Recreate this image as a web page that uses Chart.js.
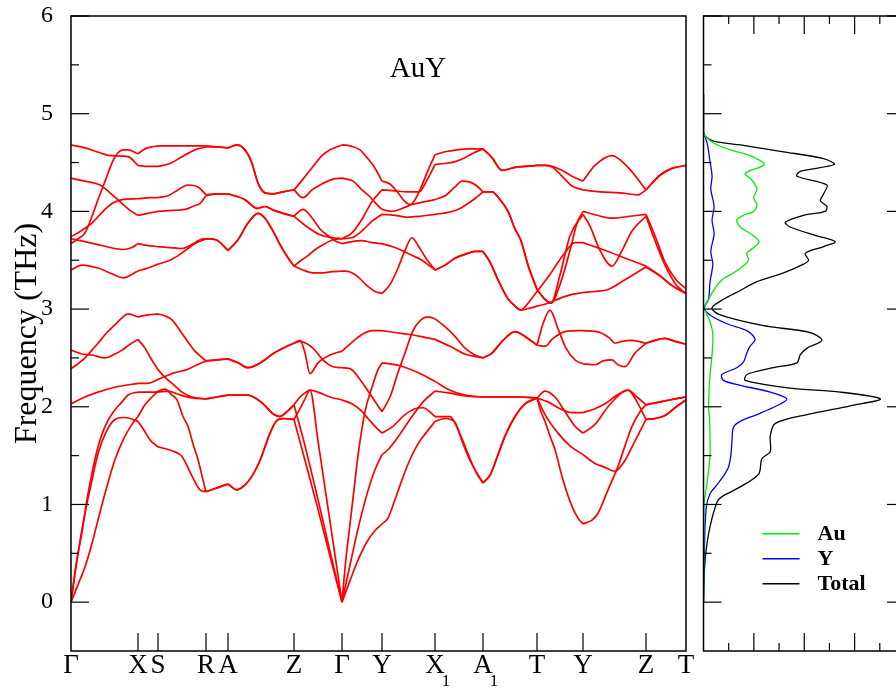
<!DOCTYPE html>
<html>
<head>
<meta charset="utf-8">
<title>AuY phonons</title>
<script src="https://cdn.jsdelivr.net/npm/chart.js@4/dist/chart.umd.min.js"></script>
<style>
  html, body { margin: 0; padding: 0; background: #fff; }
  #wrap { position: relative; width: 896px; height: 692px; overflow: hidden; background: #fff; }
  #bandBox { position: absolute; left: 0; top: 0; width: 700px; height: 692px; }
  #dosBox { position: absolute; left: 696px; top: 0; width: 230px; height: 692px; }
</style>
</head>
<body>
<div id="wrap">
  <div id="bandBox"><canvas id="bands"></canvas></div>
  <div id="dosBox"><canvas id="dos"></canvas></div>
</div>
<script>
// ---- k-path (path distance) and high-symmetry points ----
const kTicks = [0, 67, 87, 135, 157, 223, 271, 311, 364, 412, 466, 512, 575, 615];
const kLabels = [['Γ',''],['X',''],['S',''],['R',''],['A',''],['Z',''],['Γ',''],['Y',''],['X','1'],['A','1'],['T',''],['Y',''],['Z',''],['T','']];
const freqTicks = [0, 1, 2, 3, 4, 5, 6];

// ---- phonon branches: [k, frequency (THz)] ----
const band1 = [[0,4.68],[14,4.65],[29,4.60],[39,4.57],[57,4.56],[67,4.47],[77,4.46],[87,4.46],[99,4.49],[111,4.56],[124,4.63],[135,4.66],[146,4.66],[157,4.65],[166,4.68],[176,4.60],[181,4.49],[187,4.29],[194,4.19],[203,4.18],[212,4.20],[223,4.22],[232,4.33],[242,4.46],[251,4.57],[259,4.63],[271,4.68],[279,4.67],[289,4.63],[296,4.55],[303,4.46],[311,4.31],[319,4.28],[327,4.19],[334,4.10],[339,4.07],[344,4.12],[349,4.22],[357,4.42],[364,4.58],[374,4.61],[386,4.63],[399,4.64],[412,4.64],[421,4.55],[431,4.42],[444,4.45],[454,4.46],[466,4.47],[474,4.47],[482,4.46],[491,4.42],[501,4.36],[512,4.31],[524,4.47],[541,4.57],[557,4.45],[575,4.22],[589,4.37],[601,4.44],[615,4.47]];
const band2 = [[0,3.72],[14,3.69],[27,3.66],[39,3.63],[52,3.61],[61,3.63],[67,3.67],[77,3.65],[87,3.64],[99,3.63],[111,3.62],[117,3.64],[124,3.68],[129,3.71],[135,3.72],[145,3.71],[157,3.60],[167,3.71],[177,3.88],[187,3.98],[194,3.93],[203,3.78],[209,3.66],[216,3.54],[223,3.44],[229,3.49],[236,3.54],[243,3.60],[249,3.64],[262,3.71],[271,3.72],[281,3.78],[291,3.92],[301,4.10],[311,4.22],[324,4.21],[336,4.20],[348,4.20],[356,4.32],[364,4.48],[374,4.49],[384,4.51],[394,4.55],[403,4.60],[412,4.64],[421,4.55],[431,4.42],[444,4.45],[454,4.46],[466,4.47],[474,4.47],[482,4.45],[491,4.36],[501,4.26],[512,4.22],[529,4.20],[549,4.19],[567,4.17],[575,4.22],[589,4.37],[601,4.44],[615,4.47]];
const band3 = [[0,3.67],[7,3.72],[14,3.78],[21,3.95],[27,4.12],[33,4.28],[37,4.39],[42,4.52],[47,4.60],[52,4.63],[57,4.63],[67,4.59],[74,4.64],[81,4.66],[87,4.67],[111,4.67],[135,4.67],[157,4.65],[166,4.68],[176,4.60],[181,4.49],[187,4.29],[194,4.19],[203,4.18],[212,4.20],[223,4.22],[232,4.14],[241,4.22],[249,4.27],[262,4.33],[271,4.34],[282,4.31],[291,4.22],[299,4.15],[305,4.08],[311,4.02],[321,4.00],[331,4.03],[341,4.07],[354,4.10],[364,4.12],[374,4.16],[384,4.25],[391,4.31],[399,4.30],[406,4.26],[412,4.20],[421,4.20],[429,4.12],[437,4.00],[444,3.82],[450,3.70],[457,3.45],[466,3.20],[474,3.10],[480,3.06],[489,3.25],[499,3.60],[506,3.88],[512,4.00],[526,3.96],[541,3.93],[559,3.95],[575,3.97],[584,3.75],[594,3.48],[605,3.30],[615,3.21]];
const band4 = [[0,4.34],[9,4.32],[19,4.30],[29,4.27],[39,4.19],[49,4.10],[59,4.01],[67,3.96],[77,3.98],[87,4.00],[101,4.01],[114,4.02],[124,4.06],[129,4.08],[135,4.16],[146,4.18],[157,4.18],[174,4.12],[186,4.03],[194,4.05],[203,4.01],[212,3.98],[223,3.95],[235,3.85],[249,3.76],[262,3.73],[271,3.72],[281,3.73],[291,3.80],[301,3.90],[311,3.97],[324,3.96],[336,3.94],[349,3.95],[364,3.97],[377,3.99],[387,4.02],[397,4.08],[405,4.14],[412,4.20],[421,4.20],[429,4.12],[437,4.00],[444,3.82],[450,3.70],[457,3.45],[466,3.20],[474,3.10],[480,3.06],[489,3.35],[499,3.75],[512,3.97],[519,3.85],[529,3.60],[541,3.44],[551,3.60],[561,3.80],[575,3.95],[584,3.70],[594,3.45],[605,3.25],[615,3.16]];
const band5 = [[0,3.74],[10,3.80],[21,3.88],[31,3.99],[41,4.08],[51,4.12],[67,4.13],[79,4.14],[87,4.14],[97,4.16],[107,4.22],[117,4.27],[127,4.25],[135,4.17],[146,4.18],[157,4.18],[174,4.12],[186,4.03],[194,4.05],[203,4.01],[212,3.98],[223,3.95],[227,3.99],[232,4.02],[242,3.92],[249,3.82],[256,3.76],[264,3.70],[271,3.67],[281,3.69],[291,3.70],[301,3.68],[311,3.67],[321,3.64],[331,3.60],[341,3.55],[351,3.50],[359,3.44],[364,3.40],[374,3.45],[384,3.52],[394,3.56],[404,3.59],[412,3.59],[419,3.48],[427,3.30],[436,3.12],[443,3.04],[450,2.99],[457,3.06],[466,3.18],[472,3.26],[480,3.37],[492,3.55],[504,3.68],[512,3.68],[526,3.63],[537,3.59],[557,3.51],[575,3.44],[589,3.34],[601,3.24],[615,3.16]];
const band6 = [[0,3.40],[11,3.45],[27,3.42],[39,3.37],[52,3.32],[67,3.39],[77,3.42],[87,3.46],[99,3.50],[109,3.56],[117,3.62],[124,3.67],[135,3.72],[145,3.71],[157,3.60],[167,3.71],[177,3.88],[187,3.98],[194,3.93],[203,3.78],[209,3.66],[216,3.54],[223,3.44],[232,3.40],[242,3.37],[251,3.37],[259,3.38],[271,3.39],[279,3.38],[287,3.33],[295,3.25],[304,3.18],[311,3.16],[319,3.25],[327,3.42],[334,3.60],[341,3.73],[347,3.65],[355,3.52],[364,3.40],[374,3.45],[384,3.52],[394,3.56],[404,3.59],[412,3.59],[419,3.48],[427,3.30],[436,3.12],[443,3.04],[450,2.99],[459,3.01],[466,3.03],[477,3.06],[489,3.11],[501,3.15],[512,3.17],[524,3.18],[537,3.20],[554,3.30],[575,3.43],[589,3.34],[601,3.24],[615,3.16]];
const band7 = [[0,2.39],[7,2.44],[14,2.50],[21,2.58],[27,2.65],[35,2.75],[44,2.84],[51,2.91],[57,2.95],[67,2.92],[77,2.94],[87,2.95],[94,2.93],[101,2.89],[111,2.75],[124,2.57],[135,2.47],[146,2.48],[157,2.49],[167,2.45],[177,2.40],[191,2.46],[203,2.55],[214,2.61],[223,2.65],[229,2.68],[234,2.55],[239,2.34],[247,2.45],[259,2.53],[271,2.57],[281,2.66],[291,2.74],[301,2.78],[311,2.78],[324,2.76],[339,2.74],[354,2.71],[364,2.69],[379,2.62],[394,2.54],[412,2.50],[421,2.55],[432,2.68],[444,2.77],[454,2.72],[466,2.63],[472,2.85],[479,2.99],[487,2.80],[495,2.60],[504,2.48],[512,2.44],[524,2.43],[532,2.47],[541,2.48],[547,2.43],[554,2.41],[564,2.55],[575,2.65],[584,2.68],[594,2.70],[604,2.67],[615,2.64]];
const band8 = [[0,2.03],[14,2.10],[27,2.15],[44,2.20],[67,2.24],[77,2.24],[87,2.28],[94,2.31],[104,2.35],[116,2.38],[124,2.42],[135,2.47],[146,2.48],[157,2.49],[167,2.45],[177,2.40],[191,2.46],[203,2.55],[214,2.61],[223,2.65],[229,2.67],[235,2.65],[242,2.60],[252,2.48],[262,2.41],[271,2.40],[279,2.39],[289,2.28],[299,2.13],[311,1.95],[319,2.10],[327,2.35],[334,2.55],[342,2.78],[349,2.88],[357,2.92],[364,2.90],[374,2.82],[384,2.72],[394,2.60],[404,2.53],[412,2.50],[421,2.55],[432,2.68],[444,2.77],[454,2.72],[466,2.63],[474,2.62],[482,2.70],[494,2.77],[512,2.78],[529,2.76],[539,2.70],[544,2.65],[551,2.67],[561,2.68],[575,2.65],[584,2.68],[594,2.70],[604,2.67],[615,2.64]];
const band9 = [[0,2.58],[11,2.54],[21,2.53],[34,2.50],[44,2.54],[51,2.58],[59,2.64],[67,2.69],[74,2.60],[79,2.51],[87,2.38],[94,2.30],[101,2.24],[111,2.15],[121,2.10],[135,2.08],[146,2.10],[157,2.12],[177,2.12],[191,2.04],[203,1.92],[209,1.90],[216,1.95],[223,2.02],[229,2.10],[235,2.15],[239,2.17],[247,2.15],[259,2.10],[271,2.07],[281,2.03],[289,1.97],[297,1.88],[304,1.80],[311,1.73],[322,1.80],[334,1.92],[344,1.98],[352,1.99],[364,1.90],[379,1.90],[389,1.72],[397,1.52],[405,1.33],[412,1.22],[419,1.30],[426,1.48],[434,1.70],[444,1.90],[454,2.03],[466,2.09],[474,2.16],[484,2.10],[494,1.95],[504,1.80],[512,1.73],[524,1.82],[537,2.00],[549,2.13],[557,2.17],[566,2.10],[575,2.02],[584,2.04],[594,2.06],[604,2.08],[615,2.10]];
const band10 = [[0,0],[5,0.38],[11,0.72],[16,1.05],[21,1.32],[26,1.55],[31,1.72],[37,1.86],[44,1.97],[51,2.05],[57,2.12],[67,2.15],[77,2.15],[87,2.15],[97,2.16],[109,2.12],[121,2.09],[135,2.08],[146,2.10],[157,2.12],[177,2.12],[191,2.04],[203,1.92],[209,1.90],[216,1.95],[223,2.02],[234,1.60],[247,1.05],[259,0.52],[271,0],[275,0.45],[279,0.80],[283,1.15],[287,1.50],[294,1.95],[301,2.20],[307,2.38],[311,2.45],[329,2.42],[349,2.34],[364,2.26],[379,2.17],[394,2.12],[412,2.10],[429,2.10],[449,2.10],[466,2.09],[477,2.05],[489,1.98],[501,1.94],[512,1.94],[524,1.98],[534,2.03],[546,2.12],[557,2.17],[566,2.05],[575,1.87],[584,1.88],[594,1.91],[604,1.99],[615,2.07]];
const band11 = [[0,0],[7,0.50],[14,0.91],[21,1.25],[27,1.52],[36,1.76],[44,1.87],[52,1.89],[59,1.88],[67,1.85],[73,1.76],[79,1.66],[87,1.59],[101,1.55],[111,1.49],[121,1.29],[129,1.15],[135,1.13],[146,1.17],[157,1.21],[166,1.15],[174,1.20],[181,1.29],[189,1.45],[194,1.59],[199,1.73],[205,1.85],[212,1.88],[223,1.87],[234,1.45],[247,0.95],[259,0.47],[271,0],[279,0.38],[287,0.75],[295,1.07],[303,1.33],[311,1.51],[317,1.56],[329,1.72],[341,1.90],[353,2.06],[364,2.16],[379,2.14],[394,2.11],[412,2.10],[429,2.10],[449,2.10],[466,2.09],[474,1.92],[487,1.73],[499,1.60],[512,1.51],[524,1.42],[534,1.38],[544,1.34],[554,1.45],[561,1.59],[569,1.75],[575,1.87],[584,1.88],[594,1.91],[604,1.99],[615,2.07]];
const band12 = [[0,0],[7,0.18],[14,0.36],[21,0.60],[27,0.84],[35,1.15],[44,1.46],[53,1.68],[61,1.82],[67,1.90],[74,2.02],[81,2.10],[87,2.16],[94,2.18],[101,2.12],[106,2.07],[112,1.90],[117,1.80],[122,1.62],[127,1.46],[132,1.25],[135,1.13],[146,1.17],[157,1.21],[166,1.15],[174,1.20],[181,1.29],[189,1.45],[194,1.59],[199,1.73],[205,1.85],[212,1.88],[223,1.87],[229,1.98],[234,2.08],[239,2.17],[247,1.65],[255,1.10],[263,0.55],[271,0],[279,0.22],[287,0.43],[295,0.60],[303,0.72],[311,0.80],[317,0.86],[324,1.05],[332,1.28],[339,1.46],[347,1.62],[354,1.72],[364,1.85],[374,1.88],[384,1.84],[391,1.65],[399,1.45],[406,1.32],[412,1.22],[419,1.30],[426,1.48],[434,1.70],[444,1.90],[454,2.03],[466,2.09],[470,1.95],[474,1.85],[479,1.70],[484,1.56],[492,1.25],[501,0.98],[507,0.86],[512,0.80],[521,0.84],[527,0.91],[537,1.15],[547,1.39],[554,1.60],[561,1.80],[569,1.95],[575,2.02],[584,2.04],[594,2.06],[604,2.08],[615,2.10]];
const branches = [band1, band2, band3, band4, band5, band6, band7, band8, band9, band10, band11, band12];

// ---- phonon density of states: [frequency (THz), states] ----
const dosAu = [[0,0],[0.52,0.01],[1.02,0.03],[1.20,0.13],[1.51,0.26],[1.88,0.24],[2.01,0.20],[2.33,0.26],[2.50,0.33],[2.74,0.37],[2.87,0.26],[2.98,0.07],[3.01,0],[3.10,0.20],[3.19,0.40],[3.30,0.73],[3.37,1.19],[3.46,1.66],[3.50,1.79],[3.57,1.72],[3.64,2.05],[3.69,2.21],[3.75,1.99],[3.84,1.46],[3.91,1.32],[3.96,1.59],[4.00,1.99],[4.07,2.12],[4.14,1.99],[4.23,2.12],[4.32,1.92],[4.39,1.66],[4.48,2.41],[4.57,1.85],[4.63,1.06],[4.70,0.40],[4.77,0.07],[4.81,0],[5.20,0]];
const dosY = [[0,0],[0.50,0.03],[0.97,0.11],[1.11,0.26],[1.20,0.53],[1.29,0.79],[1.38,0.99],[1.51,1.09],[1.65,1.13],[1.79,1.19],[1.85,1.46],[1.92,2.12],[2.01,2.91],[2.08,3.31],[2.15,2.65],[2.22,1.46],[2.27,0.79],[2.33,0.73],[2.40,1.32],[2.46,1.59],[2.55,1.72],[2.62,1.85],[2.69,2.05],[2.78,1.72],[2.85,0.93],[2.94,0.26],[3.01,0.03],[3.10,0.20],[3.28,0.26],[3.46,0.37],[3.59,0.29],[3.77,0.42],[3.91,0.34],[4.05,0.42],[4.23,0.29],[4.36,0.34],[4.54,0.24],[4.68,0.16],[4.79,0.03],[4.81,0],[5.20,0]];
const dosTotal = [[0,0],[0.29,0.03],[0.50,0.09],[0.75,0.24],[1.02,0.53],[1.08,0.73],[1.18,1.46],[1.31,2.19],[1.47,2.32],[1.54,2.65],[1.70,2.65],[1.83,2.85],[1.92,4.11],[2.01,5.83],[2.08,7.02],[2.15,5.43],[2.19,3.44],[2.27,1.66],[2.33,1.72],[2.40,2.78],[2.45,3.71],[2.53,3.84],[2.60,4.11],[2.68,4.70],[2.76,4.24],[2.83,2.38],[2.94,0.66],[3.01,0.33],[3.10,0.79],[3.19,1.46],[3.28,2.12],[3.37,3.18],[3.46,3.97],[3.50,4.17],[3.57,4.04],[3.64,4.77],[3.69,5.23],[3.75,4.50],[3.84,3.44],[3.89,3.25],[3.96,3.97],[4.00,4.83],[4.05,4.90],[4.11,4.64],[4.18,4.77],[4.27,4.90],[4.36,3.71],[4.41,3.84],[4.48,5.19],[4.54,4.77],[4.61,3.18],[4.68,1.46],[4.72,0.40],[4.77,0.07],[4.81,0],[5.20,0]];
const dosNames = ['Au', 'Y', 'Total'];

// ---- shared styling ----
const serif = '"Liberation Serif", "DejaVu Serif", serif';
const interiorK = new Set(kTicks.slice(1, -1));

// each branch is drawn as one piece per path segment, so it may bend at a symmetry point
function branchPoints(arr) {
  const out = [];
  arr.forEach(([k, f], i) => {
    out.push({ x: k, y: f });
    if (i > 0 && i < arr.length - 1 && interiorK.has(k)) {
      out.push({ x: k, y: null });
      out.push({ x: k, y: f });
    }
  });
  return out;
}

function seg(ctx, x1, y1, x2, y2) {
  ctx.beginPath(); ctx.moveTo(x1, y1); ctx.lineTo(x2, y2); ctx.stroke();
}

// frame, inward tick marks, path labels and the compound name
const bandDecor = {
  id: 'bandDecor',
  afterDraw(chart) {
    const { ctx, chartArea: a, scales: { x, y } } = chart;
    ctx.save();
    ctx.strokeStyle = '#000';
    ctx.lineWidth = 1.5;
    ctx.strokeRect(a.left, a.top, a.right - a.left, a.bottom - a.top);
    ctx.lineWidth = 1.2;
    for (let v = 0; v <= 6; v += 0.5) {
      const py = y.getPixelForValue(v);
      seg(ctx, a.left, py, a.left + (Number.isInteger(v) ? 18 : 8), py);
    }
    interiorK.forEach(k => {
      const px = x.getPixelForValue(k);
      seg(ctx, px, a.bottom, px, a.bottom - 18);
    });
    ctx.fillStyle = '#000';
    ctx.textBaseline = 'middle';
    kLabels.forEach(([main, sub], i) => {
      const px = x.getPixelForValue(kTicks[i]);
      ctx.font = '27px ' + serif;
      ctx.textAlign = 'center';
      ctx.fillText(main, px, a.bottom + 15);
      if (sub) {
        const w = ctx.measureText(main).width;
        ctx.font = '17px ' + serif;
        ctx.textAlign = 'left';
        ctx.fillText(sub, px + w / 2 - 3, a.bottom + 31);
      }
    });
    ctx.font = '29px ' + serif;
    ctx.textAlign = 'center';
    ctx.fillText('AuY', x.getPixelForValue(347), y.getPixelForValue(5.45));
    ctx.restore();
  }
};

new Chart(document.getElementById('bands'), {
  type: 'line',
  data: {
    datasets: branches.map((b, i) => ({
      label: 'branch ' + (i + 1),
      data: branchPoints(b),
      borderColor: '#ff0000',
      borderWidth: 1.7,
      pointRadius: 0,
      fill: false,
      spanGaps: false,
      cubicInterpolationMode: 'monotone'
    }))
  },
  options: {
    responsive: true,
    maintainAspectRatio: false,
    animation: false,
    events: [],
    layout: { padding: { top: 16, right: 14, left: 0, bottom: 0 } },
    plugins: { legend: { display: false }, tooltip: { enabled: false } },
    scales: {
      x: {
        type: 'linear', min: 0, max: 615,
        grid: { display: false, drawTicks: false },
        border: { display: false },
        ticks: { display: false },
        afterFit: s => { s.height = 41; }
      },
      y: {
        type: 'linear', min: -0.5, max: 6,
        afterBuildTicks: s => { s.ticks = freqTicks.map(v => ({ value: v })); },
        afterFit: s => { s.width = 71; s.paddingTop = 0; s.paddingBottom = 0; },
        grid: { display: false, drawTicks: false },
        border: { display: false },
        ticks: { color: '#000', font: { family: serif, size: 24 }, padding: 18 },
        title: { display: true, text: 'Frequency (THz)', color: '#000', font: { family: serif, size: 32 }, padding: { top: 8, bottom: 0 } }
      }
    }
  },
  plugins: [bandDecor]
});

// ---- density of states panel ----
const dosColors = ['#00ee00', '#0000ff', '#000000'];
const dosDecor = {
  id: 'dosDecor',
  afterDraw(chart) {
    const { ctx, chartArea: a, scales: { x, y } } = chart;
    ctx.save();
    ctx.strokeStyle = '#000';
    ctx.lineWidth = 1.5;
    ctx.strokeRect(a.left, a.top, a.right - a.left, a.bottom - a.top);
    ctx.lineWidth = 1.2;
    for (let v = 0; v <= 6; v += 0.5) {
      const py = y.getPixelForValue(v);
      const len = Number.isInteger(v) ? 18 : 8;
      seg(ctx, a.left, py, a.left + len, py);
      seg(ctx, a.right, py, a.right - len, py);
    }
    for (let d = 1; d < 8; d++) {
      const px = x.getPixelForValue(d);
      const len = d % 2 === 0 ? 18 : 8;
      seg(ctx, px, a.bottom, px, a.bottom - len);
      seg(ctx, px, a.top, px, a.top + len);
    }
    // legend
    const lx = a.left + 59, ly = y.getPixelForValue(0.7);
    ctx.font = 'bold 22px ' + serif;
    ctx.textAlign = 'left';
    ctx.textBaseline = 'middle';
    dosNames.forEach((name, i) => {
      const py = ly + i * 25;
      ctx.strokeStyle = dosColors[i];
      ctx.lineWidth = 1.3;
      seg(ctx, lx, py, lx + 37, py);
      ctx.fillStyle = '#000';
      ctx.fillText(name, lx + 55, py + 1);
    });
    ctx.restore();
  }
};

new Chart(document.getElementById('dos'), {
  type: 'line',
  data: {
    datasets: [dosAu, dosY, dosTotal].map((s, i) => ({
      label: dosNames[i],
      data: s.map(([f, d]) => ({ x: d, y: f })),
      borderColor: dosColors[i],
      borderWidth: 1.3,
      pointRadius: 0,
      fill: false,
      tension: 0.3
    }))
  },
  options: {
    responsive: true,
    maintainAspectRatio: false,
    animation: false,
    events: [],
    layout: { padding: { top: 16, right: 21, left: 7.5, bottom: 41 } },
    plugins: { legend: { display: false }, tooltip: { enabled: false } },
    scales: {
      x: { type: 'linear', min: 0, max: 8, display: false },
      y: { type: 'linear', min: -0.5, max: 6, display: false }
    }
  },
  plugins: [dosDecor]
});
</script>
</body>
</html>
